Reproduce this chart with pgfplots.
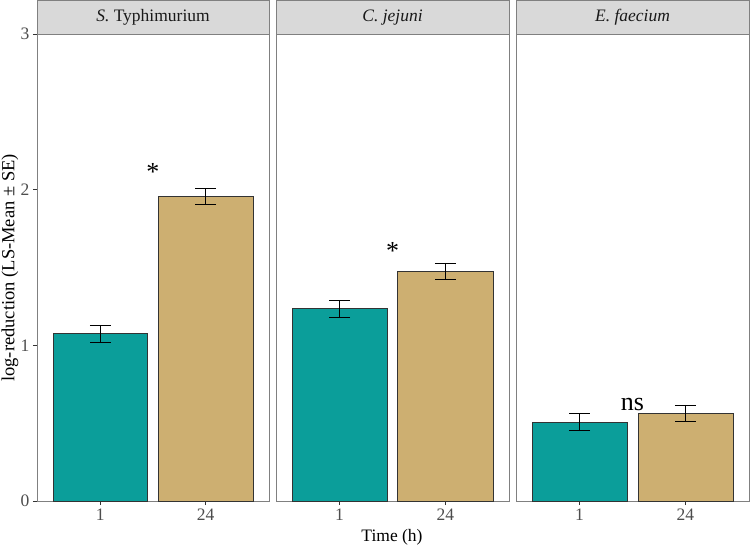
\documentclass[border=0pt]{standalone}
\usepackage{fontspec}
\setmainfont{Liberation Serif}
\usepackage{pgfplots}
\pgfplotsset{compat=1.18}
\definecolor{teal1}{HTML}{0B9E9A}
\definecolor{tan1}{HTML}{CDAF71}
\definecolor{panelgray}{HTML}{808080}
\definecolor{stripfill}{HTML}{D9D9D9}
\definecolor{ticklab}{HTML}{4D4D4D}
\definecolor{tickcol}{HTML}{333333}
\newcommand{\fs}{\fontsize{17.5}{20}\selectfont}
\pgfplotsset{
  facet/.style={
    scale only axis, width=232pt, height=467pt, anchor=south west,
    xmin=0.4, xmax=2.6, ymin=0, ymax=3,
    axis line style={panelgray, line width=1pt},
    xtick={1,2}, xticklabels={1,24},
    ytick={0,1,2,3},
    tick align=outside, major tick length=4pt,
    tick style={tickcol, line width=0.6pt},
    tick label style={font=\fs, text=ticklab},
    /pgf/number format/assume math mode=true,
    xtick pos=bottom, ytick pos=left,
    clip=false,
    ybar, bar width=0.9,
  },
  bars/.style={bar shift=0pt, draw=tickcol, line width=0.6pt,
    error bars/y dir=both, error bars/y explicit,
    error bars/error mark=|,
    error bars/error bar style={black, line width=0.7pt},
    error bars/error mark options={black, line width=0.7pt, mark size=10.5pt}},
}
\begin{document}
\begin{tikzpicture}
\useasboundingbox (0,0) rectangle (750pt,547pt);
% Panel 1
\begin{axis}[facet, name=p1, at={(37pt,46pt)}]
\addplot[fill=teal1, bars] coordinates {(1,1.075) +- (0,0.054)};
\addplot[fill=tan1, bars] coordinates {(2,1.957) +- (0,0.053)};
\node[font=\fontsize{26}{30}\selectfont, anchor=base] at (axis cs:1.5,2.06) {*};
\end{axis}
% Panel 2
\begin{axis}[facet, name=p2, at={(276pt,46pt)}, width=233pt, ytick=\empty]
\addplot[fill=teal1, bars] coordinates {(1,1.236) +- (0,0.054)};
\addplot[fill=tan1, bars] coordinates {(2,1.477) +- (0,0.052)};
\node[font=\fontsize{26}{30}\selectfont, anchor=base] at (axis cs:1.5,1.55) {*};
\end{axis}
% Panel 3
\begin{axis}[facet, name=p3, at={(516pt,46pt)}, width=233pt, ytick=\empty]
\addplot[fill=teal1, bars] coordinates {(1,0.508) +- (0,0.053)};
\addplot[fill=tan1, bars] coordinates {(2,0.565) +- (0,0.052)};
\node[font=\fontsize{26}{30}\selectfont, anchor=base] at (axis cs:1.5,0.58) {ns};
\end{axis}
% strips
\foreach \p/\t in {p1/{\textit{S.} Typhimurium}, p2/{\textit{C. jejuni}}, p3/{\textit{E. faecium}}} {
  \draw[fill=stripfill, draw=panelgray, line width=1pt] (\p.north west) rectangle ([yshift=33pt]\p.north east);
  \node[font=\fs, text=black!90] at ([yshift=16.5pt]\p.north) {\t};
}
\node[rotate=90, font=\fontsize{18.5}{21}\selectfont] at (10pt,279pt) {log-reduction (LS-Mean ± SE)};
\node[font=\fs] at (392pt,10pt) {Time (h)};
\end{tikzpicture}
\end{document}
